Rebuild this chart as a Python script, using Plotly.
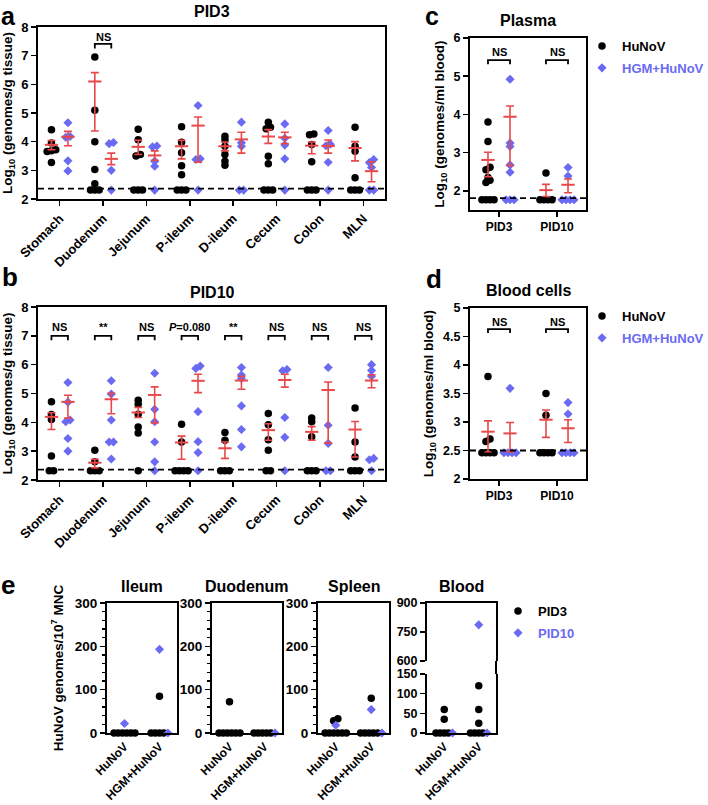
import plotly.graph_objects as go

W, H = 708, 805
FONT = "Liberation Sans, Arial, Helvetica, sans-serif"
BLACK = "#000000"
BLUE = "#6a6af2"
RED = "#e8484a"

# ---------------- data ----------------
tissues = ["Stomach", "Duodenum", "Jejunum", "P-ileum", "D-ileum", "Cecum", "Colon", "MLN"]

# panel a (PID3), log10 genomes/g tissue, one list per tissue
a_hunov = [
    [4.42, 3.95, 3.72, 3.68, 3.66, 3.27],
    [6.95, 5.10, 4.00, 3.03, 2.53, 2.31, 2.31, 2.31],
    [4.43, 4.07, 3.55, 3.50, 2.31, 2.31, 2.31],
    [4.52, 3.98, 3.61, 3.16, 2.85, 2.31, 2.31, 2.31],
    [4.19, 4.07, 3.84, 3.55, 3.32, 3.18],
    [4.68, 4.50, 4.45, 3.49, 3.23, 2.31, 2.31, 2.31],
    [4.27, 4.24, 3.90, 3.30, 2.31, 2.31, 2.31],
    [4.50, 3.84, 3.67, 2.74, 2.31, 2.31, 2.31],
]
a_hgm = [
    [4.66, 4.18, 4.15, 3.33, 2.98],
    [3.97, 3.93, 3.00, 2.31],
    [3.85, 3.82, 3.32, 3.14, 2.31],
    [5.26, 3.40, 3.38, 2.31],
    [4.68, 3.96, 3.84, 2.31, 2.31],
    [4.62, 4.12, 3.88, 3.40, 2.31],
    [4.39, 3.91, 3.86, 3.28, 2.31],
    [3.38, 3.27, 3.10, 2.31, 2.31],
]
a_hunov_mean = [3.89, 6.10, 3.82, 3.84, 3.84, 4.18, 3.86, 3.78]
a_hunov_up = [4.04, 6.41, 4.05, 4.05, 3.99, 4.42, 3.99, 4.00]
a_hunov_lo = [3.72, 4.37, 3.55, 3.40, 3.68, 3.94, 3.58, 3.33]
a_hgm_mean = [4.17, 3.40, 3.52, 4.56, 4.08, 4.15, 3.85, 2.97]
a_hgm_up = [4.36, 3.60, 3.68, 4.86, 4.33, 4.33, 4.06, 3.30]
a_hgm_lo = [3.86, 3.20, 3.35, 3.28, 3.60, 3.93, 3.60, 2.60]
a_sig = ["", "NS", "", "", "", "", "", ""]
a_lod = 2.36

# panel b (PID10)
b_hunov = [
    [4.71, 4.27, 4.10, 2.83, 2.32, 2.32],
    [3.03, 2.63, 2.32, 2.32, 2.32],
    [4.77, 4.63, 4.28, 3.84, 3.63, 2.32],
    [3.93, 3.32, 2.32, 2.32, 2.32, 2.32],
    [3.65, 3.38, 2.32, 2.32, 2.32],
    [4.31, 3.92, 3.40, 3.03, 2.32, 2.32],
    [4.15, 4.02, 3.50, 2.32, 2.32, 2.32],
    [4.50, 3.32, 2.80, 2.32, 2.32, 2.32],
]
b_hgm = [
    [5.38, 4.70, 4.08, 4.02, 3.44, 3.00],
    [5.44, 4.98, 4.08, 3.32, 3.32, 2.73],
    [5.70, 4.45, 4.02, 3.32, 2.63, 2.32],
    [5.95, 5.87, 4.37, 3.33, 2.95, 2.32],
    [5.90, 5.64, 5.52, 4.57, 3.75, 3.15],
    [5.83, 5.79, 4.17, 3.48, 2.32],
    [5.90, 3.90, 3.27, 2.32, 2.32],
    [6.00, 5.80, 5.60, 2.75, 2.70, 2.32],
]
b_hunov_mean = [4.19, 2.60, 4.34, 3.30, 3.10, 3.73, 3.67, 3.75]
b_hunov_up = [4.33, 2.72, 4.52, 3.52, 3.32, 3.95, 3.85, 4.03]
b_hunov_lo = [3.75, 2.42, 4.17, 2.72, 2.75, 3.38, 3.38, 2.80]
b_hgm_mean = [4.71, 4.80, 4.95, 5.44, 5.45, 5.47, 5.12, 5.45]
b_hgm_up = [4.94, 5.01, 5.23, 5.67, 5.60, 5.67, 5.40, 5.65]
b_hgm_lo = [4.15, 4.30, 3.98, 5.03, 5.15, 5.22, 3.28, 5.20]
b_sig = ["NS", "**", "NS", "<i>P</i>=0.080", "**", "NS", "NS", "NS"]
b_lod = 2.36

# panels c / d
pids = ["PID3", "PID10"]
c_hunov = [[3.80, 3.29, 2.62, 2.55, 2.35, 2.28, 2.22, 1.77, 1.77, 1.77, 1.77],
           [2.47, 1.77, 1.77, 1.77, 1.77]]
c_hgm = [[4.92, 3.25, 3.16, 2.68, 2.49, 1.77, 1.77, 1.77],
         [2.61, 2.39, 1.77, 1.77, 1.77, 1.77]]
c_hunov_mean = [2.81, 2.02]
c_hunov_up = [3.01, 2.17]
c_hunov_lo = [2.37, 1.85]
c_hgm_mean = [3.94, 2.16]
c_hgm_up = [4.22, 2.31]
c_hgm_lo = [2.66, 1.95]
c_lod = 1.81

d_hunov = [[3.80, 2.70, 2.66, 2.46, 2.46, 2.46, 2.46],
           [3.50, 3.12, 2.46, 2.46, 2.46, 2.46]]
d_hgm = [[3.59, 2.46, 2.46, 2.46, 2.46],
         [3.34, 3.14, 2.46, 2.46, 2.46, 2.46]]
d_hunov_mean = [2.83, 3.04]
d_hunov_up = [3.02, 3.21]
d_hunov_lo = [2.48, 2.73]
d_hgm_mean = [2.80, 2.89]
d_hgm_up = [2.99, 3.04]
d_hgm_lo = [2.48, 2.64]
d_lod = 2.50

# panel e: HuNoV genomes / 10^7 MNC  ([HuNoV group, HGM+HuNoV group])
e_groups = ["HuNoV", "HGM+HuNoV"]
e_tissues = ["Ileum", "Duodenum", "Spleen", "Blood"]
ileum_pid3 = [[0, 0, 0, 0, 0, 0], [85, 0, 0, 0, 0]]
ileum_pid10 = [[22], [193, 0]]
duodenum_pid3 = [[72, 0, 0, 0, 0, 0, 0], [0, 0, 0, 0, 0]]
duodenum_pid10 = [[], [0]]
spleen_pid3 = [[33, 28, 0, 0, 0, 0, 0, 0], [80, 0, 0, 0, 0, 0]]
spleen_pid10 = [[18], [54, 0]]
blood_pid3 = [[60, 35, 0, 0, 0, 0], [120, 60, 25, 0, 0, 0, 0]]
blood_pid10 = [[0], [787, 0]]

# ---------------- helpers ----------------
def dom_x(a, b):
    return [a / W, b / W]

def dom_y(top, bottom):
    return [1 - bottom / H, 1 - top / H]

def px_x(p):
    return p / W

def px_y(p):
    return 1 - p / H

def swarm(vals, tol, step):
    order = sorted(range(len(vals)), key=lambda i: vals[i])
    groups = []
    for i in order:
        if groups and abs(vals[i] - vals[groups[-1][0]]) <= tol:
            groups[-1].append(i)
        else:
            groups.append([i])
    offs = [0.0] * len(vals)
    for g in groups:
        n = len(g)
        for k, i in enumerate(g):
            offs[i] = (k - (n - 1) / 2) * step
    return offs

fig = go.Figure()
annotations = []
shapes = []

def tf(size):
    return dict(family=FONT, size=size, color="black", weight="bold")

def base_axis(**kw):
    d = dict(showline=True, linecolor="black", linewidth=2, mirror=True, automargin=False,
             showgrid=False, zeroline=False, ticks="outside", ticklen=5,
             tickwidth=1.6, tickcolor="black", tickfont=tf(12.5))
    d.update(kw)
    return d

black_marker = dict(symbol="circle", size=7.5, color=BLACK)
blue_marker = dict(symbol="diamond", size=7, color=BLUE)

def dots(xa, ya, xs, ys, marker):
    fig.add_trace(go.Scatter(x=xs, y=ys, mode="markers", marker=marker, xaxis=xa, yaxis=ya,
                             showlegend=False, cliponaxis=False, hoverinfo="skip"))

def mean_sem(xa, ya, xs, means, ups, los, msize=9.5):
    fig.add_trace(go.Scatter(
        x=xs, y=means, mode="markers", xaxis=xa, yaxis=ya, showlegend=False, cliponaxis=False,
        hoverinfo="skip",
        marker=dict(symbol="line-ew", size=msize, color=RED, line=dict(color=RED, width=2)),
        error_y=dict(type="data", symmetric=False,
                     array=[u - m for u, m in zip(ups, means)],
                     arrayminus=[m - l for m, l in zip(means, los)],
                     color=RED, thickness=1.6, width=4)))

def bracket(xa, ya, xc, off, top, leg, label, ty, size=11):
    fig.add_trace(go.Scatter(x=[xc - off, xc - off, xc + off, xc + off], y=[leg, top, top, leg],
                             mode="lines", line=dict(color="black", width=1.8), xaxis=xa, yaxis=ya,
                             showlegend=False, hoverinfo="skip", cliponaxis=False))
    annotations.append(dict(text=label, x=xc, y=ty, xref=xa, yref=ya, showarrow=False,
                            font=tf(size), xanchor="center", yanchor="middle"))

def lod_line(xa, ya, v):
    shapes.append(dict(type="line", xref=xa + " domain", x0=0, x1=1, yref=ya, y0=v, y1=v,
                       line=dict(color="black", width=1.8, dash="6px,4px"), layer="above"))

def column_panel(xa, ya, hunov, hgm, hm, hu, hl, gm, gu, gl, off, tol, step):
    for vals_list, marker, sign in ((hunov, black_marker, -1), (hgm, blue_marker, 1)):
        xs, ys = [], []
        for i, vals in enumerate(vals_list):
            o = swarm(vals, tol, step)
            xs += [i + sign * off + d for d in o]
            ys += vals
        dots(xa, ya, xs, ys, marker)
    n = len(hm)
    mean_sem(xa, ya, [i - off for i in range(n)], hm, hu, hl)
    mean_sem(xa, ya, [i + off for i in range(n)], gm, gu, gl)

def ann(text, x, y, size, color="black", xanchor="center", yanchor="middle"):
    annotations.append(dict(text=text, x=px_x(x), y=px_y(y), xref="paper", yref="paper",
                            showarrow=False, xanchor=xanchor, yanchor=yanchor,
                            font=dict(family=FONT, size=size, color=color, weight="bold")))

layout = dict(width=W, height=H, margin=dict(l=0, r=0, t=0, b=0, autoexpand=False),
              paper_bgcolor="white", plot_bgcolor="white",
              font=dict(family=FONT, color="black"), showlegend=True)

# ---------------- panels a & b ----------------
OFF = 0.19
ytitle_ab = dict(text="Log<sub>10</sub> (genomes/g tissue)", font=tf(13.5), standoff=6)
for k, (xa, ya, hun, hg, hm, hu, hl, gm, gu, gl, sig, lod, top_px, bot_px) in enumerate([
        ("x", "y", a_hunov, a_hgm, a_hunov_mean, a_hunov_up, a_hunov_lo,
         a_hgm_mean, a_hgm_up, a_hgm_lo, a_sig, a_lod, 27, 199),
        ("x2", "y2", b_hunov, b_hgm, b_hunov_mean, b_hunov_up, b_hunov_lo,
         b_hgm_mean, b_hgm_up, b_hgm_lo, b_sig, b_lod, 307, 480)]):
    sfx = "" if k == 0 else "2"
    layout["xaxis" + sfx] = base_axis(domain=dom_x(38, 385), anchor=ya, range=[-0.5, 7.5],
                                      tickvals=list(range(len(tissues))), ticktext=tissues,
                                      tickangle=-45, tickfont=tf(13))
    layout["yaxis" + sfx] = base_axis(domain=dom_y(top_px, bot_px), anchor=xa, range=[2, 8],
                                      tickvals=[2, 3, 4, 5, 6, 7, 8], tickfont=tf(13),
                                      title=ytitle_ab)
    lod_line(xa, ya, lod)
    column_panel(xa, ya, hun, hg, hm, hu, hl, gm, gu, gl, OFF, 0.12, 0.1)
    for i, s in enumerate(sig):
        if s:
            if k == 0:
                bracket(xa, ya, i, OFF, 7.41, 7.25, s, 7.64)
            else:
                bracket(xa, ya, i, OFF, 7.0, 6.85, s, 7.3)

# ---------------- panels c & d ----------------
for k, (xa, ya, hun, hg, hm, hu, hl, gm, gu, gl, lod, top_px, bot_px, rng, tv, bt, bl, bty, tol) in enumerate([
        ("x3", "y3", c_hunov, c_hgm, c_hunov_mean, c_hunov_up, c_hunov_lo,
         c_hgm_mean, c_hgm_up, c_hgm_lo, c_lod, 38, 210, [1.5, 6], [2, 3, 4, 5, 6], 5.42, 5.31, 5.63, 0.08),
        ("x4", "y4", d_hunov, d_hgm, d_hunov_mean, d_hunov_up, d_hunov_lo,
         d_hgm_mean, d_hgm_up, d_hgm_lo, d_lod, 308, 479, [2, 5], [2, 2.5, 3, 3.5, 4, 4.5, 5], 4.63, 4.56, 4.76, 0.05)]):
    sfx = str(k + 3)
    layout["xaxis" + sfx] = base_axis(domain=dom_x(470, 586), anchor=ya, range=[-0.5, 1.5],
                                      tickvals=[0, 1], ticktext=pids, tickfont=tf(12))
    layout["yaxis" + sfx] = base_axis(domain=dom_y(top_px, bot_px), anchor=xa, range=rng,
                                      tickvals=tv, tickfont=tf(12.5),
                                      title=dict(text="Log<sub>10</sub> (genomes/ml blood)",
                                                 font=tf(13.5), standoff=6))
    lod_line(xa, ya, lod)
    column_panel(xa, ya, hun, hg, hm, hu, hl, gm, gu, gl, OFF, tol, 0.07)
    for i in range(2):
        bracket(xa, ya, i, OFF, bt, bl, "NS", bty)

# legends for c, d, e
for lg, xa, ya, names in (("legend", "x3", "y3", ["HuNoV", "HGM+HuNoV"]),
                          ("legend2", "x4", "y4", ["HuNoV", "HGM+HuNoV"]),
                          ("legend3", "x5", "y5", ["PID3", "PID10"])):
    fig.add_trace(go.Scatter(x=[None], y=[None], mode="markers", marker=black_marker,
                             name=names[0], legend=lg, legendgroup=lg + "a",
                             xaxis=xa, yaxis=ya, hoverinfo="skip"))
    fig.add_trace(go.Scatter(x=[None], y=[None], mode="markers", marker=blue_marker,
                             name="<span style='color:%s'>%s</span>" % (BLUE, names[1]),
                             legend=lg, legendgroup=lg + "b",
                             xaxis=xa, yaxis=ya, hoverinfo="skip"))

def legend_box(x, y):
    return dict(x=px_x(x), y=px_y(y), xanchor="left", yanchor="top", bgcolor="rgba(0,0,0,0)",
                font=dict(family=FONT, size=13, color="black", weight="bold"),
                tracegroupgap=2, itemwidth=30)

layout["legend"] = legend_box(582, 31)
layout["legend2"] = legend_box(582, 301)
layout["legend3"] = legend_box(498, 596)

# ---------------- panel e ----------------
e_data = [(ileum_pid3, ileum_pid10), (duodenum_pid3, duodenum_pid10),
          (spleen_pid3, spleen_pid10), (blood_pid3, blood_pid10)]
e_xpx = [(107, 177), (212, 282), (318, 389), (427, 496)]
STEP_E = 0.12

for j, ((p3, p10), (x0, x1)) in enumerate(zip(e_data, e_xpx)):
    n = 5 + j
    xa, ya = "x%d" % n, "y%d" % n
    layout["xaxis%d" % n] = base_axis(domain=dom_x(x0, x1), anchor=ya, range=[-0.5, 1.5],
                                      tickvals=[0, 1], ticktext=e_groups, tickangle=-45,
                                      tickfont=tf(12), ticks="", mirror=(j < 3))
    if j < 3:
        ykw = dict(range=[0, 300], tickvals=[0, 100, 200, 300],
                   minor=dict(dtick=20, ticks="outside", ticklen=3, tickwidth=1.2, tickcolor="black"))
        ydom = dom_y(603, 733)
        yfont = tf(13.5)
    else:
        ykw = dict(range=[0, 150], tickvals=[0, 50, 100, 150])
        ydom = dom_y(674, 733)
        yfont = tf(12.5)
    if j == 0:
        ykw["title"] = dict(text="HuNoV genomes/10<sup>7</sup> MNC", font=tf(13.5), standoff=8)
    layout["yaxis%d" % n] = base_axis(domain=ydom, anchor=xa, tickfont=yfont, **ykw)
    ann(e_tissues[j], (x0 + x1) / 2, 586, 16)

    tol = 8
    bx, by, ux, uy = [], [], [], []
    tbx, tby, tux, tuy = [], [], [], []
    for g in range(2):
        vals = list(p3[g]) + list(p10[g])
        kinds = ["k"] * len(p3[g]) + ["b"] * len(p10[g])
        offs = swarm(vals, tol, STEP_E)
        for v, kd, o in zip(vals, kinds, offs):
            top = (j == 3 and v > 150)
            if kd == "k":
                (tbx if top else bx).append(g + o)
                (tby if top else by).append(v)
            else:
                (tux if top else ux).append(g + o)
                (tuy if top else uy).append(v)
    dots(xa, ya, bx, by, black_marker)
    dots(xa, ya, ux, uy, blue_marker)
    if j == 3:
        dots("x9", "y9", tbx, tby, black_marker)
        dots("x9", "y9", tux, tuy, blue_marker)

# Blood upper segment (broken axis)
layout["xaxis9"] = base_axis(domain=dom_x(427, 496), anchor="y9", range=[-0.5, 1.5],
                             side="top", mirror=False, ticks="", showticklabels=False)
layout["yaxis9"] = base_axis(domain=dom_y(603, 661), anchor="x9", range=[600, 900],
                             tickvals=[600, 750, 900], tickfont=tf(12.5))
shapes.append(dict(type="line", xref="x8 domain", x0=1, x1=1, yref="paper",
                   y0=px_y(674), y1=px_y(661), line=dict(color="black", width=2)))

# ---------------- titles and panel letters ----------------
ann("PID3", 212, 12, 16)
ann("PID10", 212, 292, 16)
ann("Plasma", 528, 21, 16)
ann("Blood cells", 528, 290, 16)
ann("a", 8, 0, 25, yanchor="top")
ann("c", 432, 0, 25, yanchor="top")
for letter, x, y in (("b", 10, 277), ("d", 434, 279), ("e", 8, 585)):
    ann(letter, x, y, 26)

layout["annotations"] = annotations
layout["shapes"] = shapes
fig.update_layout(**layout)
fig.write_html("out.html", config={"displayModeBar": False, "staticPlot": True},
               post_script="document.body.style.margin='0px';document.body.style.overflow='hidden';")
